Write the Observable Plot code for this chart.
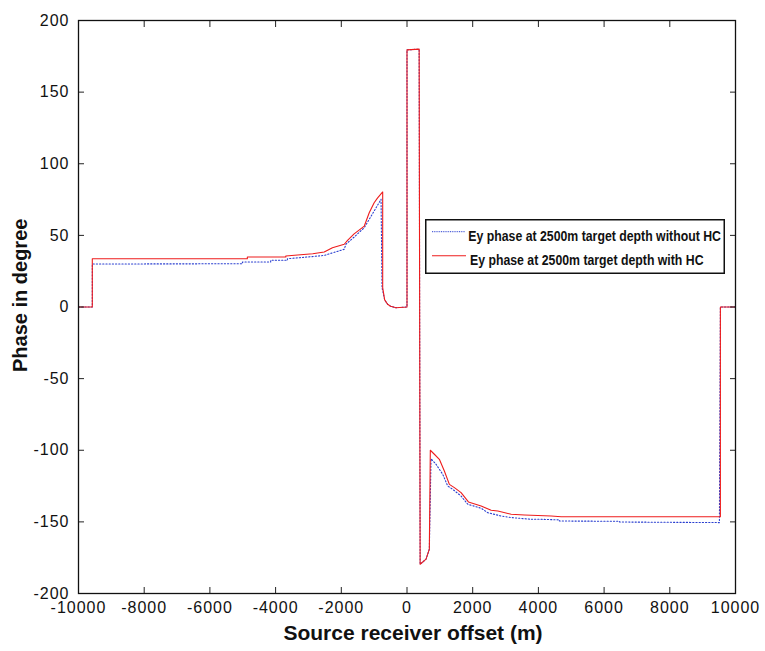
<!DOCTYPE html>
<html><head><meta charset="utf-8">
<script src="https://cdn.jsdelivr.net/npm/d3@7"></script>
<script src="https://cdn.jsdelivr.net/npm/@observablehq/plot@0.6"></script>
<style>
body{margin:0;background:#fff;}
#wrap{position:relative;width:765px;height:651px;}
g[aria-label="x-axis tick label"] text, g[aria-label="y-axis tick label"] text {letter-spacing:1px;}
#legend{position:absolute;left:425px;top:219px;font-family:"Liberation Sans",Arial,sans-serif;}
</style></head><body><div id="wrap"></div>
<script>
// Ey phase with hydrocarbon (red, solid)
const offsetsHC = [-10000,-9580,-9580,-4860,-4860,-3690,-3690,-3330,-2870,-2520,-2270,-1910,-1810,-1610,-1500,-1300,-1150,-1000,-900,-740,-740,-680,-590,-500,-335,0,0,370,400,580,680,710,833,985,1137,1290,1442,1646,1870,2256,2561,2765,3171,3577,4390,4695,9540,9540,10000];
const phaseHC   = [0,0,33.7,33.7,34.9,34.9,35.6,36.3,37.2,38.4,41.4,43.8,46.5,51,53,56.5,65.8,72.8,76,80.3,13.5,5,1.9,0.5,-0.5,0,179.5,180,-179.6,-176,-169,-100,-102.8,-106.3,-114.5,-123.8,-126.1,-129.6,-136.1,-138.9,-141.9,-142.4,-144.7,-145.2,-145.9,-146.4,-146.4,0,0];
// Ey phase without hydrocarbon (blue, dotted)
const offsetsNoHC = [-10000,-9580,-9580,-5010,-5010,-4150,-4150,-3640,-3640,-3030,-2520,-1910,-1860,-1600,-1300,-1000,-790,-760,-680,-590,-500,-335,0,0,370,400,580,680,732,884,1088,1240,1393,1646,1850,2256,2460,2866,3171,3780,4085,4640,4640,6470,6470,9510,9540,10000];
const phaseNoHC   = [0,0,30,30.2,31.4,31.4,32.6,32.6,33.7,34.9,36,40.3,43.8,49,55.4,67,75.2,13.5,5,1.9,0.5,-0.5,0,179.5,180,-179.6,-176,-169,-105.9,-109.8,-116.8,-125,-127.3,-132,-137.7,-140.5,-143.6,-145.9,-147,-148.2,-148.2,-148.6,-149.4,-149.6,-150.1,-150.5,0,0];
const xTicks = [-10000,-8000,-6000,-4000,-2000,0,2000,4000,6000,8000,10000];
const yTicks = [-200,-150,-100,-50,0,50,100,150,200];
const seriesNames = ["Ey phase at 2500m target depth without HC","Ey phase at 2500m target depth with HC"];
const xLabel = "Source receiver offset (m)";
const yLabel = "Phase in degree";

const hc = offsetsHC.map((x,i)=>({x, y: phaseHC[i]}));
const nohc = offsetsNoHC.map((x,i)=>({x, y: phaseNoHC[i]}));
const fmt = d => String(d);
const tickStroke = "#222";

const chart = Plot.plot({
  width: 765, height: 651,
  marginTop: 20, marginRight: 30, marginBottom: 58, marginLeft: 78,
  style: {fontFamily: "'Liberation Sans', Arial, sans-serif", background: "#fff", color: "#111"},
  x: {domain: [-10000, 10000]},
  y: {domain: [-200, 200]},
  marks: [
    Plot.line(nohc, {x: "x", y: "y", stroke: "#2a3fd0", strokeWidth: 1.1, strokeDasharray: "1.2,2"}),
    Plot.line(hc, {x: "x", y: "y", stroke: "#ee1c1c", strokeWidth: 1.1}),
    // inward ticks on all four sides
    Plot.axisX(xTicks, {anchor: "bottom", tickSize: 6, dy: -6, fill: "none", stroke: tickStroke, label: null}),
    Plot.axisX(xTicks, {anchor: "top", tickSize: 6, dy: 6, fill: "none", stroke: tickStroke, label: null}),
    Plot.axisY(yTicks, {anchor: "left", tickSize: 6, dx: 6, fill: "none", stroke: tickStroke, label: null}),
    Plot.axisY(yTicks, {anchor: "right", tickSize: 6, dx: -6, fill: "none", stroke: tickStroke, label: null}),
    // tick labels
    Plot.axisX(xTicks, {anchor: "bottom", tickSize: 0, tickPadding: 8, tickFormat: fmt, fontSize: 16, label: null}),
    Plot.axisY(yTicks, {anchor: "left", tickSize: 0, tickPadding: 9, tickFormat: fmt, fontSize: 16, label: null}),
    Plot.frame({stroke: "#111", strokeWidth: 1.3}),
    Plot.text([xLabel], {frameAnchor: "bottom", dy: 46, dx: 6, fontSize: 21, fontWeight: "bold", fill: "#111"}),
    Plot.text([yLabel], {frameAnchor: "left", dx: -58, dy: 65, rotate: -90, fontSize: 20, fontWeight: "bold", fill: "#111"})
  ]
});
const wrap = document.getElementById("wrap");
wrap.appendChild(chart);

const ns = "http://www.w3.org/2000/svg";
const leg = document.createElementNS(ns, "svg");
leg.setAttribute("id", "legend");
leg.setAttribute("width", 301); leg.setAttribute("height", 56);
leg.innerHTML = `
<rect x="0.75" y="0.75" width="298.5" height="53.5" fill="white" stroke="#111" stroke-width="1.5"/>
<line x1="7" x2="40" y1="12.7" y2="12.7" stroke="#2a3fd0" stroke-width="1" stroke-dasharray="1,0.8"/>
<line x1="7" x2="41" y1="36.7" y2="36.7" stroke="#ee1c1c" stroke-width="1.1"/>`;
const rows = [[43.3, 22], [45, 46]];
seriesNames.forEach((name, i) => {
  const t = document.createElementNS(ns, "text");
  t.setAttribute("transform", `translate(${rows[i][0]},${rows[i][1]}) scale(0.82,1)`);
  t.setAttribute("font-size", 15); t.setAttribute("font-weight", "bold"); t.setAttribute("fill", "#111");
  t.textContent = name;
  leg.appendChild(t);
});
wrap.appendChild(leg);
</script>
</body></html>
